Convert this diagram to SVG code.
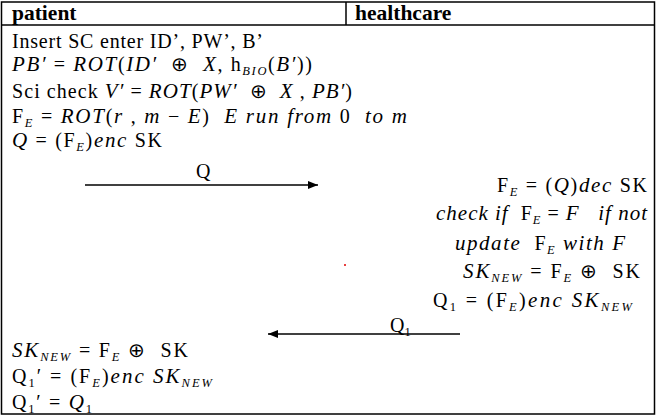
<svg xmlns="http://www.w3.org/2000/svg" width="657" height="416" viewBox="0 0 657 416">
<style>
text{font-family:"Liberation Serif","Times New Roman",serif;font-size:20px;fill:#000;white-space:pre}
.b{font-weight:bold;font-size:21.5px}
.i{font-style:italic;font-size:21px}
.s{font-size:12.5px}
.frame{fill:none;stroke:#000;stroke-width:1.5}
.conn{stroke:#000;stroke-width:1.3;fill:none}
</style>
<defs>
<marker id="ah" viewBox="0 0 10 10" refX="10" refY="5" markerWidth="10" markerHeight="10" markerUnits="userSpaceOnUse" orient="auto">
<path d="M0,1 L10,5 L0,9 z" fill="#000"/>
</marker>
</defs>
<rect width="657" height="416" fill="#fff"/>
<g id="table">
<rect class="frame" x="1.5" y="2" width="653" height="412"/>
<line class="frame" x1="1.5" y1="25" x2="654.5" y2="25"/>
<line class="frame" x1="346" y1="2" x2="346" y2="25"/>
<text class="b" x="12" y="20">patient</text>
<text class="b" x="355" y="20">healthcare</text>
</g>
<g id="patient-steps">
<text x="12" y="48" textLength="251" lengthAdjust="spacing">Insert SC enter ID’, PW’, B’</text>
<text x="12" y="71" textLength="300" lengthAdjust="spacing"><tspan class="i">PB′</tspan> = <tspan class="i">ROT</tspan>(<tspan class="i">ID′</tspan>  ⊕  <tspan class="i">X</tspan>, h<tspan class="i s" dy="4">BIO</tspan><tspan dy="-4">(</tspan><tspan class="i">B′</tspan>))</text>
<text x="12" y="98" textLength="340" lengthAdjust="spacing">Sci check <tspan class="i">V′</tspan> = <tspan class="i">ROT</tspan>(<tspan class="i">PW′</tspan>  ⊕  <tspan class="i">X</tspan> , <tspan class="i">PB′</tspan>)</text>
<text x="12" y="123" textLength="395" lengthAdjust="spacing">F<tspan class="i s" dy="4">E</tspan><tspan dy="-4"> = </tspan><tspan class="i">ROT</tspan>(<tspan class="i">r</tspan> , <tspan class="i">m</tspan> − <tspan class="i">E</tspan>)  <tspan class="i">E run from</tspan> 0  <tspan class="i">to m</tspan></text>
<text x="12" y="147" textLength="150" lengthAdjust="spacing"><tspan class="i">Q</tspan> = (F<tspan class="i s" dy="4">E</tspan><tspan dy="-4">)</tspan><tspan class="i">enc</tspan> SK</text>
</g>
<g id="healthcare-steps">
<text x="497" y="192" textLength="150" lengthAdjust="spacing">F<tspan class="i s" dy="4">E</tspan><tspan dy="-4"> = (</tspan><tspan class="i">Q</tspan>)<tspan class="i">dec</tspan> SK</text>
<text x="436" y="220" textLength="211" lengthAdjust="spacing"><tspan class="i">check if</tspan>  F<tspan class="i s" dy="4">E</tspan><tspan dy="-4"> = </tspan><tspan class="i">F   if not</tspan></text>
<text x="455" y="250" textLength="170" lengthAdjust="spacing"><tspan class="i">update</tspan>  F<tspan class="i s" dy="4">E</tspan><tspan class="i" dy="-4"> with F</tspan></text>
<text x="463" y="278" textLength="177" lengthAdjust="spacing"><tspan class="i">SK</tspan><tspan class="i s" dy="4">NEW</tspan><tspan dy="-4"> = F</tspan><tspan class="i s" dy="4">E</tspan><tspan dy="-4"> ⊕  SK</tspan></text>
<text x="433" y="307" textLength="199" lengthAdjust="spacing">Q<tspan class="s" dy="4">1</tspan><tspan dy="-4"> = (F</tspan><tspan class="i s" dy="4">E</tspan><tspan dy="-4">)</tspan><tspan class="i">enc SK</tspan><tspan class="i s" dy="4">NEW</tspan></text>
</g>
<g id="patient-final">
<text x="12" y="357" textLength="176" lengthAdjust="spacing"><tspan class="i">SK</tspan><tspan class="i s" dy="4">NEW</tspan><tspan dy="-4"> = F</tspan><tspan class="i s" dy="4">E</tspan><tspan dy="-4"> ⊕  SK</tspan></text>
<text x="12" y="383" textLength="200" lengthAdjust="spacing">Q<tspan class="s" dy="4">1</tspan><tspan dy="-4">′ = (F</tspan><tspan class="i s" dy="4">E</tspan><tspan dy="-4">)</tspan><tspan class="i">enc SK</tspan><tspan class="i s" dy="4">NEW</tspan></text>
<text x="12" y="409" textLength="80" lengthAdjust="spacing">Q<tspan class="s" dy="4">1</tspan><tspan dy="-4">′ = </tspan><tspan class="i">Q</tspan><tspan class="s" dy="4">1</tspan></text>
</g>
<g id="connectors">
<line class="conn" x1="85" y1="185" x2="318" y2="185" marker-end="url(#ah)"/>
<text x="196" y="178">Q</text>
<line class="conn" x1="460" y1="334" x2="268" y2="334" marker-end="url(#ah)"/>
<text x="390" y="332">Q<tspan class="s" dy="4">1</tspan></text>
</g>
<circle cx="345" cy="265" r="1" fill="#e00000"/>
</svg>
